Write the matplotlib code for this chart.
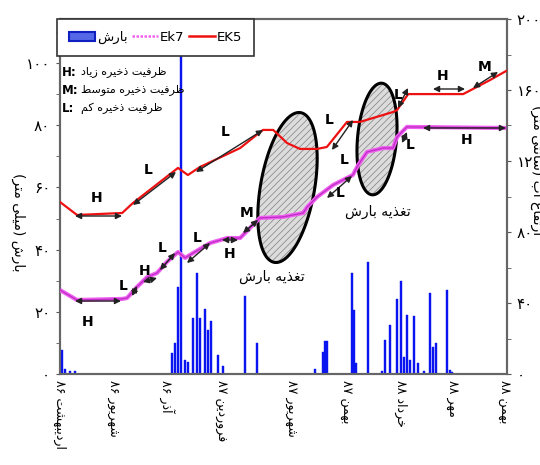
import matplotlib
matplotlib.use('Agg')
import matplotlib.pyplot as plt
from matplotlib.patches import Polygon, Patch
from matplotlib.lines import Line2D
import numpy as np

plt.rcParams['font.family'] = ['DejaVu Sans']

# ---------------- data ----------------
rain_day = [4, 11, 22, 34, 251, 257, 264, 271, 280, 286, 298, 306, 313, 324, 331, 338, 353, 365,
            414, 441, 570, 588, 593, 597, 653, 658, 662, 689, 720, 727, 738, 754, 763, 770, 776,
            783, 792, 801, 814, 828, 834, 841, 866, 872, 877]
rain_mm = [7.7, 1.5, 1.0, 1.0, 6.7, 10, 28, 125, 4.5, 4, 18, 32.5, 18, 21, 14, 17, 6, 2.5,
           25, 10, 1.5, 7, 10.6, 10.6, 32.5, 20.5, 3.5, 36, 1, 11, 15.7, 24, 30, 5.5, 19,
           4.5, 18.5, 3.5, 1, 26, 8.7, 10, 27, 1.3, 0.6]

ek5_day = [0, 38, 139, 163, 264, 286, 313, 403, 454, 477, 508, 537, 575, 597, 642, 671, 700,
           745, 754, 779, 902, 962, 998]
ek5_val = [96.9, 89.6, 90.7, 96.3, 116.1, 112.1, 116.6, 127.3, 137.5, 137.5, 130.1, 126.8,
           126.8, 127.9, 142.0, 142.0, 144.2, 147.6, 148.7, 157.7, 157.7, 165.6, 170.7]

ek7_day = [0, 38, 139, 150, 172, 195, 217, 239, 264, 280, 298, 336, 374, 403, 447, 499, 544,
           553, 575, 611, 655, 667, 687, 723, 745, 754, 776, 998]
ek7_val = [47.3, 41.7, 42.3, 42.8, 49.0, 54.6, 56.9, 63.1, 68.7, 65.4, 68.2, 73.8, 76.6, 76.6,
           87.9, 88.5, 90.7, 94.1, 99.7, 106.5, 112.1, 117.7, 125.1, 127.3, 127.3, 133.5, 139.2,
           138.6]

tick_day = [0, 119, 239, 362, 519, 642, 761, 879, 995]
tick_lbl = ["اردیبهشت ۸۶", "شهریور ۸۶", "آذر ۸۶", "فروردین ۸۷", "شهریور ۸۷",
            "بهمن ۸۷", "خرداد ۸۸", "مهر ۸۸", "بهمن ۸۸"]

left_ticks = [0, 20, 40, 60, 80, 100]
right_ticks = [0, 40, 80, 120, 160, 200]

# ---------------- Persian shaping helpers ----------------
FORMS = {
    '\u0627': ('\uFE8D', '\uFE8E', None, None),
    '\u0622': ('\uFE81', '\uFE82', None, None),
    '\u0628': ('\uFE8F', '\uFE90', '\uFE91', '\uFE92'),
    '\u067E': ('\uFB56', '\uFB57', '\uFB58', '\uFB59'),
    '\u062A': ('\uFE95', '\uFE96', '\uFE97', '\uFE98'),
    '\u062C': ('\uFE9D', '\uFE9E', '\uFE9F', '\uFEA0'),
    '\u062D': ('\uFEA1', '\uFEA2', '\uFEA3', '\uFEA4'),
    '\u062E': ('\uFEA5', '\uFEA6', '\uFEA7', '\uFEA8'),
    '\u062F': ('\uFEA9', '\uFEAA', None, None),
    '\u0630': ('\uFEAB', '\uFEAC', None, None),
    '\u0631': ('\uFEAD', '\uFEAE', None, None),
    '\u0632': ('\uFEAF', '\uFEB0', None, None),
    '\u0633': ('\uFEB1', '\uFEB2', '\uFEB3', '\uFEB4'),
    '\u0634': ('\uFEB5', '\uFEB6', '\uFEB7', '\uFEB8'),
    '\u0635': ('\uFEB9', '\uFEBA', '\uFEBB', '\uFEBC'),
    '\u0637': ('\uFEC1', '\uFEC2', '\uFEC3', '\uFEC4'),
    '\u0638': ('\uFEC5', '\uFEC6', '\uFEC7', '\uFEC8'),
    '\u0639': ('\uFEC9', '\uFECA', '\uFECB', '\uFECC'),
    '\u063A': ('\uFECD', '\uFECE', '\uFECF', '\uFED0'),
    '\u0641': ('\uFED1', '\uFED2', '\uFED3', '\uFED4'),
    '\u0642': ('\uFED5', '\uFED6', '\uFED7', '\uFED8'),
    '\u06A9': ('\uFB8E', '\uFB8F', '\uFB90', '\uFB91'),
    '\u06AF': ('\uFB92', '\uFB93', '\uFB94', '\uFB95'),
    '\u0644': ('\uFEDD', '\uFEDE', '\uFEDF', '\uFEE0'),
    '\u0645': ('\uFEE1', '\uFEE2', '\uFEE3', '\uFEE4'),
    '\u0646': ('\uFEE5', '\uFEE6', '\uFEE7', '\uFEE8'),
    '\u0647': ('\uFEE9', '\uFEEA', '\uFEEB', '\uFEEC'),
    '\u0648': ('\uFEED', '\uFEEE', None, None),
    '\u06CC': ('\uFBFC', '\uFBFD', '\uFBFE', '\uFBFF'),
}


def _shape(s):
    out = []
    n = len(s)
    for i, c in enumerate(s):
        if c not in FORMS:
            out.append(c)
            continue
        f = FORMS[c]
        prev = s[i - 1] if i > 0 else None
        nxt = s[i + 1] if i < n - 1 else None
        jp = prev in FORMS and FORMS[prev][2] is not None
        jn = f[2] is not None and nxt in FORMS
        if jp and jn:
            out.append(f[3])
        elif jp:
            out.append(f[1])
        elif jn:
            out.append(f[2])
        else:
            out.append(f[0])
    return ''.join(out)


def fa(s):
    s = s.replace('\u064A', '\u06CC').replace('\u0643', '\u06A9')
    s = _shape(s)
    runs = []
    for c in s:
        ltr = c.isdigit() or (c.isascii() and c.isalnum())
        if runs and runs[-1][0] == ltr:
            runs[-1][1] += c
        else:
            runs.append([ltr, c])
    mirror = {'(': ')', ')': '('}
    vis = []
    for ltr, txt in reversed(runs):
        if ltr:
            vis.append(txt)
        else:
            vis.append(''.join(mirror.get(ch, ch) for ch in reversed(txt)))
    return ''.join(vis)


def fa_num(v):
    return str(int(v)).translate(str.maketrans('0123456789', '۰۱۲۳۴۵۶۷۸۹'))


# ---------------- figure ----------------
W, H = 540, 465
fig = plt.figure(figsize=(W / 100, H / 100), dpi=100)
AX_L, AX_R, AX_T, AX_B = 60, 507, 19, 374
ax = fig.add_axes([AX_L / W, 1 - AX_B / H, (AX_R - AX_L) / W, (AX_B - AX_T) / H])
ax2 = ax.twinx()


def P(x, y):
    return ((x - AX_L) / (AX_R - AX_L), (AX_B - y) / (AX_B - AX_T))


# rain bars
ax.bar(rain_day, rain_mm, width=4, color='#0a14f0', edgecolor='#0a14f0', linewidth=0.3, zorder=2)
ax.set_xlim(0, 1000)
ax.set_ylim(0, 114.2)
ax.set_yticks(left_ticks)
ax.set_yticks(np.arange(10, 114, 10), minor=True)
ax.set_yticklabels([fa_num(v) for v in left_ticks], fontsize=11)
ax.set_xticks(tick_day)
ax.set_xticklabels([fa(t) for t in tick_lbl], rotation=270, fontsize=9, va='top', ha='center')
ax.tick_params(axis='x', length=0, pad=4)
ax.tick_params(axis='y', which='both', direction='out', length=3, color='#555555', pad=4)

# curves on right axis
ax2.plot(ek5_day, ek5_val, color='#ee1111', lw=1.6, zorder=4)
ax2.plot(ek7_day, ek7_val, color='#f060f0', lw=3.0, zorder=4, solid_capstyle='butt')
ax2.plot(ek7_day, ek7_val, color='#c030c8', lw=1.0, zorder=4)
ax2.set_ylim(0, 200)
ax2.set_xlim(0, 1000)
ax2.set_yticks(right_ticks)
ax2.set_yticks(np.arange(20, 200, 40), minor=True)
ax2.set_yticklabels([fa_num(v) for v in right_ticks], fontsize=11)
ax2.tick_params(axis='y', which='both', direction='out', length=3, color='#555555', pad=4)

for a in (ax, ax2):
    for sp in a.spines.values():
        sp.set_color('#666666')
        sp.set_linewidth(1.5)

plt.rcParams['hatch.linewidth'] = 0.5
plt.rcParams['hatch.color'] = '#707070'


# ellipses (hatched, behind the curves)
def ellipse(cx, cy, a, b, tilt_deg):
    t = np.linspace(0, 2 * np.pi, 200)
    ph = np.deg2rad(-tilt_deg)
    u, v = a * np.cos(t), b * np.sin(t)
    X = u * np.cos(ph) - v * np.sin(ph)
    Y = u * np.sin(ph) + v * np.cos(ph)
    pts = [P(cx + xx, cy - yy) for xx, yy in zip(X, Y)]
    poly = Polygon(pts, closed=True, transform=ax2.transAxes, facecolor='#dcdcdc',
                   edgecolor='#808080', hatch='/////', lw=0, zorder=2)
    ax2.add_patch(poly)
    poly2 = Polygon(pts, closed=True, transform=ax2.transAxes, facecolor='none',
                    edgecolor='black', lw=2.2, zorder=3)
    ax2.add_patch(poly2)


ellipse(287.5, 187.5, 27, 76, 10)
ellipse(377, 139, 19.5, 56, 5)

# arrows
arrows = [((75, 216), (122, 216)), ((133, 205), (176, 172)), ((196, 172), (263, 130)),
          ((353, 120), (332, 150)), ((398, 108), (408, 88)), ((433, 89), (465, 89)),
          ((473, 88), (498, 72)),
          ((75, 301), (121, 301)), ((132, 296), (137, 286)), ((143, 282), (157, 278)),
          ((160, 270), (175, 253)), ((187, 263), (210, 243)), ((222, 240), (238, 240)),
          ((243, 233), (258, 220)), ((327, 198), (352, 176)), ((402, 143), (407, 132)),
          ((423, 128), (506, 128))]
for (x1, y1), (x2, y2) in arrows:
    ax2.annotate('', xy=P(x2, y2), xytext=P(x1, y1), xycoords='axes fraction',
                 textcoords='axes fraction',
                 arrowprops=dict(arrowstyle='<|-|>', color='#222222', lw=1.0,
                                 mutation_scale=9, shrinkA=0, shrinkB=0), zorder=7)

letters = [('H', 97, 198), ('L', 148, 170), ('L', 225, 132), ('L', 329, 120), ('L', 344, 160),
           ('L', 398, 95), ('H', 443, 76), ('M', 485, 67),
           ('H', 88, 322), ('L', 123, 286), ('H', 145, 271), ('L', 162, 248), ('L', 197, 238),
           ('H', 230, 254), ('M', 247, 213), ('L', 340, 193), ('L', 410, 145), ('H', 467, 140)]
for s, x, y in letters:
    ax2.text(*P(x, y), s, transform=ax2.transAxes, fontsize=10, fontweight='bold',
             ha='center', va='center', zorder=8)

# recharge labels
ax2.text(*P(272, 277), fa("تغذیه بارش"), transform=ax2.transAxes, fontsize=10,
         ha='center', va='center', zorder=8)
ax2.text(*P(378, 212), fa("تغذیه بارش"), transform=ax2.transAxes, fontsize=10,
         ha='center', va='center', zorder=8)

# capacity key
key = [('H:', "ظرفیت ذخیره زیاد", 72), ('M:', "ظرفیت ذخیره متوسط", 90), ('L:', "ظرفیت ذخیره کم", 108)]
for k, t, y in key:
    ax2.text(*P(62, y), k, transform=ax2.transAxes, fontsize=8.5, fontweight='bold',
             ha='left', va='center', zorder=8)
    ax2.text(*P(81, y), fa(t), transform=ax2.transAxes, fontsize=8,
             ha='left', va='center', zorder=8)

# legend
handles = [Patch(facecolor='#5568e8', edgecolor='#1020c0', lw=1.5),
           Line2D([], [], color='#f060f0', lw=1.8, linestyle=(0, (1, 0.6))),
           Line2D([], [], color='#ee1111', lw=1.8)]
labels = [fa("بارش"), 'Ek7', 'EK5']
leg = ax2.legend(handles, labels, loc='upper left', bbox_to_anchor=P(57, 19), ncol=3,
                 frameon=True, fancybox=False, framealpha=1, edgecolor='#333333',
                 handlelength=2.0, handletextpad=0.15, columnspacing=0.3, fontsize=9.5,
                 borderpad=0.9, borderaxespad=0)
leg.get_frame().set_linewidth(1.2)
leg.set_zorder(20)

# axis labels
fig.text(18 / W, 1 - 222 / H, fa("بارش (میلی متر)"), rotation=270, fontsize=10,
         ha='center', va='center')
fig.text(537 / W, 1 - 170 / H, fa("ارتفاع آب (سانتی متر)"), rotation=270, fontsize=10,
         ha='center', va='center')

fig.savefig('out.png', dpi=100)
